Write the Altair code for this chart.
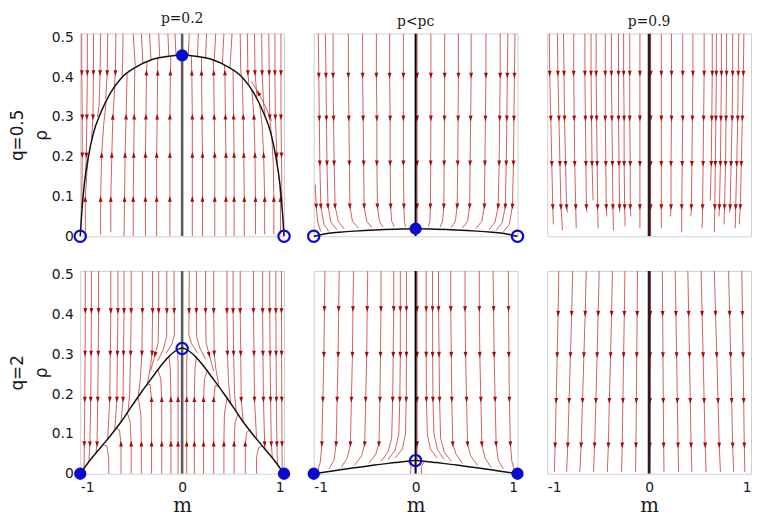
import math
import altair as alt
import pandas as pd

W, H = 206, 205
Y_TOP = 0.51
SX = W / 2.0
SY = H / Y_TOP

STREAM_COLOR = "#cf5656"
ARROW_COLOR = "#a30c0c"
BLUE = "#0b0bd0"
ARROW_PATH = "M0,-1L0.6,0.8L-0.6,0.8Z"

COL_TITLES = ["p=0.2", "p<pᴄ", "p=0.9"]
ROW_TITLES = [["q=0.5", "ρ"], ["q=2", "ρ"]]
X_TICKS = [-1, 0, 1]
Y_TICKS = [0, 0.1, 0.2, 0.3, 0.4, 0.5]
CENTER_RHO = [0.0, 0.51]

# ---------------- panel 1 : q=0.5, p=0.2 ----------------
C1_M = [-1, -0.985, -0.96, -0.92, -0.87, -0.8, -0.7, -0.6, -0.45, -0.3, -0.15, 0,
        0.15, 0.3, 0.45, 0.6, 0.7, 0.8, 0.87, 0.92, 0.96, 0.985, 1]
C1_R = [0, 0.06, 0.13, 0.2, 0.26, 0.31, 0.362, 0.397, 0.426, 0.444, 0.452, 0.455,
        0.452, 0.444, 0.426, 0.397, 0.362, 0.31, 0.26, 0.2, 0.13, 0.06, 0]
P1_FILLED = [(0, 0.455)]
P1_OPEN = [(-1, 0), (1, 0)]
P1_LINES = [
    [(-0.95, 0.005), (-0.95, 0.093, 1), (-0.935, 0.16), (-0.92, 0.2)],
    [(-0.80, 0.005), (-0.80, 0.093, 1), (-0.79, 0.204, 1), (-0.77, 0.28), (-0.745, 0.34)],
    [(-0.70, 0.01), (-0.70, 0.093, 1), (-0.69, 0.204, 1), (-0.68, 0.30, 1), (-0.66, 0.376)],
    [(-0.57, 0.0), (-0.565, 0.093, 1), (-0.56, 0.204, 1), (-0.55, 0.30, 1), (-0.54, 0.41)],
    [(-0.48, 0.0), (-0.48, 0.093, 1), (-0.475, 0.204, 1), (-0.47, 0.30, 1), (-0.465, 0.422)],
    [(-0.36, 0.0), (-0.36, 0.093, 1), (-0.36, 0.204, 1), (-0.355, 0.30, 1), (-0.35, 0.411, 1), (-0.345, 0.438)],
    [(-0.25, 0.0), (-0.25, 0.093, 1), (-0.25, 0.204, 1), (-0.245, 0.30, 1), (-0.24, 0.411, 1), (-0.24, 0.447)],
    [(-0.12, 0.0), (-0.12, 0.093, 1), (-0.12, 0.204, 1), (-0.12, 0.30, 1), (-0.115, 0.411, 1), (-0.11, 0.452)],
    [(0.10, 0.0), (0.10, 0.093, 1), (0.10, 0.204, 1), (0.10, 0.30, 1), (0.095, 0.411, 1), (0.09, 0.453)],
    [(0.20, 0.0), (0.20, 0.093, 1), (0.20, 0.204, 1), (0.195, 0.30, 1), (0.19, 0.411, 1), (0.19, 0.45)],
    [(0.32, 0.0), (0.32, 0.093, 1), (0.32, 0.204, 1), (0.315, 0.30, 1), (0.31, 0.411, 1), (0.305, 0.443)],
    [(0.43, 0.0), (0.43, 0.093, 1), (0.43, 0.204, 1), (0.425, 0.30, 1), (0.42, 0.411, 1), (0.415, 0.431)],
    [(0.51, 0.0), (0.51, 0.093, 1), (0.51, 0.204, 1), (0.505, 0.30, 1), (0.5, 0.42)],
    [(0.61, 0.0), (0.61, 0.093, 1), (0.605, 0.204, 1), (0.6, 0.30, 1), (0.59, 0.4)],
    [(0.72, 0.005), (0.72, 0.093, 1), (0.715, 0.204, 1), (0.705, 0.30, 1), (0.685, 0.367)],
    [(0.81, 0.005), (0.81, 0.093, 1), (0.80, 0.204, 1), (0.785, 0.28), (0.76, 0.333)],
    [(0.90, 0.005), (0.90, 0.093, 1), (0.895, 0.18), (0.88, 0.25)],
    [(0.965, 0.005), (0.965, 0.093, 1), (0.96, 0.125)],
    [(-0.985, 0.51), (-0.985, 0.411, 1), (-0.98, 0.30, 1), (-0.98, 0.204, 1), (-0.985, 0.07)],
    [(-0.93, 0.51), (-0.93, 0.411, 1), (-0.935, 0.30, 1), (-0.94, 0.204, 1), (-0.95, 0.15)],
    [(-0.87, 0.51), (-0.87, 0.411, 1), (-0.875, 0.30, 1), (-0.89, 0.24)],
    [(-0.80, 0.51), (-0.805, 0.411, 1), (-0.815, 0.33), (-0.83, 0.30)],
    [(-0.73, 0.51), (-0.735, 0.411, 1), (-0.75, 0.345)],
    [(-0.65, 0.51), (-0.655, 0.411, 1), (-0.665, 0.378)],
    [(-0.58, 0.51), (-0.585, 0.42), (-0.59, 0.4)],
    [(-0.48, 0.51), (-0.46, 0.428)],
    [(-0.40, 0.51), (-0.385, 0.434)],
    [(-0.32, 0.51), (-0.305, 0.443)],
    [(-0.23, 0.51), (-0.22, 0.448)],
    [(-0.14, 0.51), (-0.13, 0.452)],
    [(-0.07, 0.51), (-0.06, 0.455)],
    [(0.07, 0.51), (0.06, 0.455)],
    [(0.16, 0.51), (0.15, 0.452)],
    [(0.24, 0.51), (0.23, 0.448)],
    [(0.33, 0.51), (0.315, 0.443)],
    [(0.41, 0.51), (0.395, 0.433)],
    [(0.49, 0.51), (0.47, 0.425)],
    [(0.57, 0.51), (0.575, 0.42), (0.58, 0.404)],
    [(0.64, 0.51), (0.645, 0.411, 1), (0.655, 0.383)],
    [(0.71, 0.51), (0.715, 0.411, 1), (0.735, 0.35)],
    [(0.78, 0.51), (0.785, 0.411, 1), (0.80, 0.33), (0.815, 0.305)],
    [(0.85, 0.51), (0.855, 0.411, 1), (0.86, 0.30, 1), (0.875, 0.255)],
    [(0.91, 0.51), (0.91, 0.411, 1), (0.915, 0.30, 1), (0.93, 0.204, 1), (0.935, 0.185)],
    [(0.97, 0.51), (0.97, 0.411, 1), (0.97, 0.30, 1), (0.975, 0.204, 1), (0.98, 0.085)],
    [(0.88, 0.29), (0.82, 0.325), (0.75, 0.36, 1), (0.68, 0.39)],
]

# ---------------- panel 2 : q=0.5, p<pc ----------------
C2_M = [-1, -0.93, -0.87, -0.75, -0.6, -0.4, -0.2, 0, 0.2, 0.4, 0.6, 0.75, 0.87, 0.93, 1]
C2_R = [0, 0.004, 0.007, 0.010, 0.013, 0.016, 0.018, 0.019, 0.018, 0.016, 0.013, 0.010, 0.007, 0.004, 0]
P2_FILLED = [(0, 0.019)]
P2_OPEN = [(-1, 0), (1, 0)]
P2_LINES = [
    [(-0.955, 0.51), (-0.95, 0.405, 1), (-0.945, 0.297, 1), (-0.94, 0.184, 1), (-0.93, 0.076, 1), (-0.90, 0.03), (-0.85, 0.012)],
    [(-0.885, 0.51), (-0.88, 0.405, 1), (-0.875, 0.297, 1), (-0.87, 0.184, 1), (-0.86, 0.076, 1), (-0.83, 0.035), (-0.77, 0.016)],
    [(-0.81, 0.51), (-0.81, 0.405, 1), (-0.805, 0.297, 1), (-0.80, 0.184, 1), (-0.79, 0.076, 1), (-0.76, 0.038), (-0.70, 0.018)],
    [(-0.66, 0.51), (-0.66, 0.405, 1), (-0.655, 0.297, 1), (-0.65, 0.184, 1), (-0.645, 0.076, 1), (-0.62, 0.038), (-0.56, 0.02)],
    [(-0.52, 0.51), (-0.52, 0.405, 1), (-0.515, 0.297, 1), (-0.51, 0.184, 1), (-0.505, 0.076, 1), (-0.48, 0.038), (-0.43, 0.022)],
    [(-0.385, 0.51), (-0.385, 0.405, 1), (-0.38, 0.297, 1), (-0.38, 0.184, 1), (-0.375, 0.076, 1), (-0.355, 0.038), (-0.32, 0.023)],
    [(-0.255, 0.51), (-0.255, 0.405, 1), (-0.25, 0.297, 1), (-0.25, 0.184, 1), (-0.245, 0.076, 1), (-0.235, 0.038), (-0.21, 0.024)],
    [(-0.12, 0.51), (-0.12, 0.405, 1), (-0.12, 0.297, 1), (-0.12, 0.184, 1), (-0.115, 0.076, 1), (-0.11, 0.038), (-0.10, 0.024)],
    [(0.015, 0.51), (0.015, 0.405, 1), (0.015, 0.297, 1), (0.015, 0.184, 1), (0.015, 0.076, 1), (0.015, 0.024)],
    [(0.15, 0.51), (0.15, 0.405, 1), (0.15, 0.297, 1), (0.148, 0.184, 1), (0.145, 0.076, 1), (0.14, 0.038), (0.125, 0.024)],
    [(0.285, 0.51), (0.285, 0.405, 1), (0.283, 0.297, 1), (0.28, 0.184, 1), (0.277, 0.076, 1), (0.265, 0.038), (0.24, 0.023)],
    [(0.42, 0.51), (0.42, 0.405, 1), (0.417, 0.297, 1), (0.413, 0.184, 1), (0.408, 0.076, 1), (0.39, 0.038), (0.35, 0.022)],
    [(0.545, 0.51), (0.545, 0.405, 1), (0.54, 0.297, 1), (0.535, 0.184, 1), (0.53, 0.076, 1), (0.51, 0.038), (0.46, 0.021)],
    [(0.69, 0.51), (0.69, 0.405, 1), (0.685, 0.297, 1), (0.68, 0.184, 1), (0.675, 0.076, 1), (0.65, 0.038), (0.59, 0.019)],
    [(0.83, 0.51), (0.83, 0.405, 1), (0.825, 0.297, 1), (0.82, 0.184, 1), (0.81, 0.076, 1), (0.78, 0.036), (0.72, 0.016)],
    [(0.905, 0.51), (0.90, 0.405, 1), (0.895, 0.297, 1), (0.89, 0.184, 1), (0.88, 0.076, 1), (0.85, 0.034), (0.79, 0.015)],
    [(0.975, 0.51), (0.97, 0.405, 1), (0.965, 0.297, 1), (0.96, 0.184, 1), (0.95, 0.076, 1), (0.92, 0.03), (0.86, 0.011)],
    [(-0.985, 0.13), (-0.975, 0.076, 1), (-0.96, 0.035), (-0.93, 0.012)],
]

# ---------------- panel 3 : q=0.5, p=0.9 ----------------
# (m at top, m at rho rows 0.41 / 0.297 / 0.183 / 0.074, m at end, rho at end)
P3_ROWS = [0.41, 0.297, 0.183, 0.074]
P3_SPECS = [
    (-0.98, -0.975, -0.965, -0.955, -0.945, -0.94, 0.03),
    (-0.90, -0.895, -0.885, -0.875, -0.865, -0.85, 0.015),
    (-0.84, -0.835, -0.83, -0.82, -0.81, -0.80, 0.06),
    (-0.74, -0.74, -0.735, -0.73, -0.72, -0.715, 0.02),
    (-0.63, -0.63, -0.625, -0.62, -0.615, -0.61, 0.06),
    (-0.57, -0.57, -0.565, -0.56, -0.555, -0.55, 0.09),
    (-0.52, -0.52, -0.515, -0.51, -0.505, -0.50, 0.02),
    (-0.43, -0.43, -0.43, -0.425, -0.42, -0.415, 0.05),
    (-0.37, -0.37, -0.365, -0.36, -0.355, -0.35, 0.015),
    (-0.30, -0.30, -0.30, -0.295, -0.29, -0.29, 0.06),
    (-0.25, -0.25, -0.245, -0.245, -0.24, -0.235, 0.025),
    (-0.19, -0.19, -0.19, -0.185, -0.185, -0.18, 0.05),
    (-0.09, -0.09, -0.09, -0.09, -0.09, -0.09, 0.02),
    (0.015, 0.015, 0.015, 0.015, 0.015, 0.015, 0.0),
    (0.12, 0.12, 0.12, 0.12, 0.12, 0.12, 0.02),
    (0.22, 0.22, 0.22, 0.215, 0.215, 0.21, 0.05),
    (0.33, 0.33, 0.33, 0.325, 0.32, 0.32, 0.01),
    (0.43, 0.43, 0.425, 0.42, 0.415, 0.41, 0.05),
    (0.54, 0.54, 0.535, 0.53, 0.525, 0.52, 0.02),
    (0.62, 0.62, 0.615, 0.61, 0.605, 0.60, 0.09),
    (0.66, 0.66, 0.655, 0.65, 0.645, 0.64, 0.01),
    (0.71, 0.71, 0.705, 0.70, 0.69, 0.685, 0.05),
    (0.76, 0.76, 0.755, 0.75, 0.74, 0.735, 0.03),
    (0.82, 0.82, 0.815, 0.805, 0.795, 0.79, 0.06),
    (0.88, 0.875, 0.87, 0.86, 0.85, 0.845, 0.02),
    (0.93, 0.925, 0.915, 0.905, 0.895, 0.885, 0.03),
]

# ---------------- panel 4 : q=2, p=0.2 ----------------
C4_M = [-1, -0.9, -0.8, -0.7, -0.6, -0.5, -0.4, -0.3, -0.2, -0.13, -0.07, -0.03, 0,
        0.03, 0.07, 0.13, 0.2, 0.3, 0.4, 0.5, 0.6, 0.7, 0.8, 0.9, 1]
C4_R = [0, 0.035, 0.066, 0.097, 0.13, 0.168, 0.205, 0.24, 0.274, 0.295, 0.308, 0.314, 0.316,
        0.314, 0.308, 0.295, 0.274, 0.24, 0.205, 0.168, 0.13, 0.097, 0.066, 0.035, 0]
P4_FILLED = [(-1, 0), (1, 0)]
P4_OPEN = [(0, 0.315)]
P4_LINES = [
    [(-0.95, 0.51), (-0.95, 0.41, 1), (-0.952, 0.303, 1), (-0.955, 0.187, 1), (-0.96, 0.075, 1), (-0.962, 0.015)],
    [(-0.89, 0.51), (-0.89, 0.41, 1), (-0.893, 0.303, 1), (-0.897, 0.187, 1), (-0.905, 0.075, 1), (-0.915, 0.03)],
    [(-0.82, 0.51), (-0.82, 0.41, 1), (-0.823, 0.303, 1), (-0.828, 0.187, 1), (-0.835, 0.075, 1), (-0.845, 0.052)],
    [(-0.70, 0.51), (-0.70, 0.41, 1), (-0.705, 0.303, 1), (-0.71, 0.187, 1), (-0.73, 0.09)],
    [(-0.63, 0.51), (-0.63, 0.41, 1), (-0.635, 0.303, 1), (-0.64, 0.187, 1), (-0.66, 0.113)],
    [(-0.57, 0.51), (-0.57, 0.41, 1), (-0.575, 0.303, 1), (-0.58, 0.187, 1), (-0.60, 0.13)],
    [(-0.50, 0.51), (-0.50, 0.41, 1), (-0.505, 0.303, 1), (-0.515, 0.2), (-0.53, 0.158)],
    [(-0.39, 0.51), (-0.39, 0.41, 1), (-0.395, 0.303, 1), (-0.41, 0.24), (-0.43, 0.195)],
    [(-0.29, 0.51), (-0.29, 0.41, 1), (-0.295, 0.303, 1), (-0.31, 0.27), (-0.34, 0.228)],
    [(-0.23, 0.51), (-0.23, 0.41, 1), (-0.235, 0.33), (-0.265, 0.30, 1), (-0.31, 0.258)],
    [(-0.15, 0.51), (-0.15, 0.41, 1), (-0.152, 0.345), (-0.185, 0.312), (-0.24, 0.284)],
    [(-0.08, 0.51), (-0.078, 0.41, 1), (-0.075, 0.35), (-0.10, 0.326), (-0.16, 0.302)],
    [(0.07, 0.51), (0.068, 0.41, 1), (0.066, 0.35), (0.09, 0.328), (0.15, 0.304)],
    [(0.14, 0.51), (0.14, 0.41, 1), (0.142, 0.345), (0.175, 0.315), (0.23, 0.288)],
    [(0.23, 0.51), (0.23, 0.41, 1), (0.235, 0.33), (0.265, 0.30, 1), (0.31, 0.258)],
    [(0.31, 0.51), (0.31, 0.41, 1), (0.315, 0.303, 1), (0.33, 0.265), (0.36, 0.222)],
    [(0.44, 0.51), (0.44, 0.41, 1), (0.445, 0.303, 1), (0.455, 0.23), (0.475, 0.18)],
    [(0.50, 0.51), (0.50, 0.41, 1), (0.505, 0.303, 1), (0.515, 0.2), (0.53, 0.158)],
    [(0.57, 0.51), (0.57, 0.41, 1), (0.575, 0.303, 1), (0.58, 0.187, 1), (0.60, 0.13)],
    [(0.70, 0.51), (0.70, 0.41, 1), (0.705, 0.303, 1), (0.71, 0.187, 1), (0.73, 0.09)],
    [(0.79, 0.51), (0.79, 0.41, 1), (0.793, 0.303, 1), (0.798, 0.187, 1), (0.81, 0.075, 1), (0.815, 0.06)],
    [(0.86, 0.51), (0.86, 0.41, 1), (0.863, 0.303, 1), (0.868, 0.187, 1), (0.875, 0.075, 1), (0.885, 0.042)],
    [(0.92, 0.51), (0.92, 0.41, 1), (0.922, 0.303, 1), (0.925, 0.187, 1), (0.93, 0.075, 1), (0.935, 0.025)],
    [(0.975, 0.51), (0.975, 0.41, 1), (0.976, 0.303, 1), (0.978, 0.187, 1), (0.98, 0.075, 1), (0.982, 0.008)],
    [(-0.72, 0.0), (-0.72, 0.04), (-0.74, 0.07), (-0.78, 0.073)],
    [(-0.60, 0.0), (-0.60, 0.075, 1), (-0.615, 0.11), (-0.65, 0.115)],
    [(-0.50, 0.0), (-0.50, 0.075, 1), (-0.51, 0.13), (-0.54, 0.155)],
    [(-0.40, 0.0), (-0.40, 0.075, 1), (-0.405, 0.15), (-0.43, 0.19), (-0.46, 0.185)],
    [(-0.30, 0.0), (-0.30, 0.075, 1), (-0.30, 0.187, 1), (-0.315, 0.225), (-0.35, 0.222)],
    [(-0.20, 0.0), (-0.20, 0.075, 1), (-0.20, 0.187, 1), (-0.21, 0.24), (-0.24, 0.262)],
    [(-0.11, 0.0), (-0.11, 0.075, 1), (-0.11, 0.187, 1), (-0.115, 0.26), (-0.13, 0.297)],
    [(-0.04, 0.0), (-0.04, 0.075, 1), (-0.04, 0.187, 1), (-0.04, 0.28), (-0.045, 0.312)],
    [(0.045, 0.0), (0.045, 0.075, 1), (0.045, 0.187, 1), (0.045, 0.28), (0.05, 0.312)],
    [(0.12, 0.0), (0.12, 0.075, 1), (0.12, 0.187, 1), (0.125, 0.26), (0.14, 0.295)],
    [(0.21, 0.0), (0.21, 0.075, 1), (0.21, 0.187, 1), (0.22, 0.24), (0.25, 0.26)],
    [(0.31, 0.0), (0.31, 0.075, 1), (0.31, 0.187, 1), (0.325, 0.222), (0.36, 0.219)],
    [(0.41, 0.0), (0.41, 0.075, 1), (0.415, 0.15), (0.44, 0.19), (0.47, 0.18)],
    [(0.51, 0.0), (0.51, 0.075, 1), (0.52, 0.13), (0.55, 0.15)],
    [(0.62, 0.0), (0.62, 0.075, 1), (0.635, 0.105), (0.67, 0.11)],
    [(0.73, 0.0), (0.73, 0.04), (0.75, 0.065), (0.79, 0.07)],
]

# ---------------- panel 5 : q=2, p<pc ----------------
C5_M = [-1, -0.8, -0.6, -0.4, -0.2, -0.1, -0.04, 0, 0.04, 0.1, 0.2, 0.4, 0.6, 0.8, 1]
C5_R = [0, 0.0075, 0.015, 0.022, 0.028, 0.031, 0.0325, 0.033, 0.0325, 0.031, 0.028, 0.022, 0.015, 0.0075, 0]
P5_FILLED = [(-1, 0), (1, 0)]
P5_OPEN = [(0, 0.033)]
P5_LINES = [
    [(-0.89, 0.51), (-0.895, 0.415, 1), (-0.90, 0.30, 1), (-0.91, 0.187, 1), (-0.92, 0.075, 1), (-0.935, 0.03), (-0.96, 0.008)],
    [(-0.75, 0.51), (-0.755, 0.415, 1), (-0.76, 0.30, 1), (-0.77, 0.187, 1), (-0.78, 0.075, 1), (-0.80, 0.035), (-0.85, 0.012)],
    [(-0.61, 0.51), (-0.615, 0.415, 1), (-0.62, 0.30, 1), (-0.63, 0.187, 1), (-0.64, 0.075, 1), (-0.67, 0.04), (-0.73, 0.016)],
    [(-0.47, 0.51), (-0.475, 0.415, 1), (-0.48, 0.30, 1), (-0.49, 0.187, 1), (-0.50, 0.075, 1), (-0.53, 0.045), (-0.60, 0.021)],
    [(-0.34, 0.51), (-0.34, 0.415, 1), (-0.345, 0.30, 1), (-0.35, 0.187, 1), (-0.36, 0.075, 1), (-0.39, 0.05), (-0.46, 0.026)],
    [(-0.215, 0.51), (-0.215, 0.415, 1), (-0.22, 0.30, 1), (-0.225, 0.187, 1), (-0.235, 0.09), (-0.27, 0.055), (-0.34, 0.031)],
    [(-0.15, 0.51), (-0.15, 0.415, 1), (-0.15, 0.30, 1), (-0.155, 0.187, 1), (-0.165, 0.10), (-0.20, 0.06), (-0.27, 0.036)],
    [(-0.09, 0.51), (-0.09, 0.415, 1), (-0.09, 0.30, 1), (-0.092, 0.187, 1), (-0.10, 0.10), (-0.13, 0.062), (-0.20, 0.04)],
    [(0.015, 0.51), (0.015, 0.415, 1), (0.015, 0.30, 1), (0.015, 0.187, 1), (0.015, 0.075, 1), (0.015, 0.034)],
    [(0.104, 0.51), (0.104, 0.415, 1), (0.104, 0.30, 1), (0.106, 0.187, 1), (0.115, 0.10), (0.145, 0.062), (0.21, 0.04)],
    [(0.166, 0.51), (0.166, 0.415, 1), (0.167, 0.30, 1), (0.17, 0.187, 1), (0.18, 0.10), (0.215, 0.06), (0.28, 0.036)],
    [(0.225, 0.51), (0.225, 0.415, 1), (0.23, 0.30, 1), (0.235, 0.187, 1), (0.245, 0.09), (0.28, 0.055), (0.35, 0.031)],
    [(0.345, 0.51), (0.345, 0.415, 1), (0.35, 0.30, 1), (0.355, 0.187, 1), (0.365, 0.075, 1), (0.395, 0.05), (0.46, 0.026)],
    [(0.485, 0.51), (0.485, 0.415, 1), (0.49, 0.30, 1), (0.50, 0.187, 1), (0.51, 0.075, 1), (0.54, 0.045), (0.61, 0.02)],
    [(0.625, 0.51), (0.625, 0.415, 1), (0.63, 0.30, 1), (0.64, 0.187, 1), (0.65, 0.075, 1), (0.68, 0.04), (0.74, 0.016)],
    [(0.76, 0.51), (0.765, 0.415, 1), (0.77, 0.30, 1), (0.78, 0.187, 1), (0.79, 0.075, 1), (0.81, 0.035), (0.86, 0.012)],
    [(0.91, 0.51), (0.912, 0.415, 1), (0.915, 0.30, 1), (0.92, 0.187, 1), (0.93, 0.075, 1), (0.945, 0.03), (0.97, 0.008)],
    [(-0.05, 0.0), (-0.045, 0.018), (-0.07, 0.03)],
    [(0.06, 0.0), (0.055, 0.018), (0.085, 0.03)],
]

# ---------------- panel 6 : q=2, p=0.9 ----------------
P6_ROWS = [0.403, 0.299, 0.184, 0.072]
P6_SPECS = [
    (-0.886, -0.893, -0.902, -0.912, -0.922, -0.93, 0.004),
    (-0.75, -0.76, -0.772, -0.785, -0.798, -0.81, 0.004),
    (-0.617, -0.627, -0.64, -0.653, -0.667, -0.68, 0.004),
    (-0.49, -0.50, -0.51, -0.522, -0.535, -0.545, 0.004),
    (-0.36, -0.368, -0.378, -0.39, -0.40, -0.41, 0.004),
    (-0.237, -0.243, -0.25, -0.257, -0.264, -0.27, 0.004),
    (-0.114, -0.117, -0.121, -0.125, -0.129, -0.133, 0.004),
    (0.013, 0.012, 0.011, 0.009, 0.008, 0.006, 0.004),
    (0.13, 0.133, 0.136, 0.139, 0.143, 0.146, 0.004),
    (0.256, 0.263, 0.27, 0.277, 0.284, 0.29, 0.004),
    (0.38, 0.388, 0.396, 0.404, 0.412, 0.42, 0.004),
    (0.51, 0.52, 0.53, 0.54, 0.55, 0.56, 0.004),
    (0.64, 0.652, 0.664, 0.676, 0.688, 0.70, 0.004),
    (0.78, 0.79, 0.80, 0.81, 0.82, 0.83, 0.004),
    (0.91, 0.916, 0.922, 0.928, 0.934, 0.94, 0.004),
]


def specs_to_lines(specs, rows):
    out = []
    for s in specs:
        pts = [(s[0], Y_TOP)]
        for mv, rv in zip(s[1:5], rows):
            if rv > s[6] + 0.008:
                pts.append((mv, rv, 1))
        pts.append((s[5], s[6]))
        out.append(pts)
    return out


def lines_to_frames(lines):
    prow, arow = [], []
    for li, pts in enumerate(lines):
        for k, p in enumerate(pts):
            prow.append({"line": li, "order": k, "m": p[0], "rho": p[1]})
            if len(p) > 2 and p[2]:
                a = pts[max(k - 1, 0)]
                b = pts[min(k + 1, len(pts) - 1)]
                dx = (b[0] - a[0]) * SX
                dy = (b[1] - a[1]) * SY
                ang = math.degrees(math.atan2(dx, dy)) % 360
                arow.append({"m": p[0], "rho": p[1], "angle": ang})
    return pd.DataFrame(prow), pd.DataFrame(arow, columns=["m", "rho", "angle"])


XS = alt.Scale(domain=[-1, 1], nice=False, zero=False)
YS = alt.Scale(domain=[0, Y_TOP], nice=False, zero=False)


def make_panel(r, c, lines, curve=None, filled=None, opened=None, center_color="#000", center_w=2.0):
    if r == 1:
        xaxis = alt.Axis(values=X_TICKS, title="m", labelExpr="'' + datum.value",
                         ticks=False, domain=False, grid=False, labelPadding=7,
                         titleFont="DejaVu Serif", titleFontSize=20, titleFontWeight="normal",
                         titlePadding=1, labelFontSize=14, labelFont="DejaVu Sans", labelColor="#1a1a1a",
                         titleColor="#1a1a1a")
    else:
        xaxis = None
    if c == 0:
        yaxis = alt.Axis(values=Y_TICKS, title=ROW_TITLES[r], labelExpr="'' + datum.value",
                         ticks=False, domain=False, grid=False, labelPadding=7,
                         titleFont="DejaVu Sans", titleFontSize=17, titleFontWeight="normal",
                         titleLineHeight=24, titlePadding=1, labelFontSize=14, labelFont="DejaVu Sans",
                         labelColor="#1a1a1a", titleColor="#1a1a1a")
    else:
        yaxis = None
    x = alt.X("m:Q", scale=XS, axis=xaxis)
    y = alt.Y("rho:Q", scale=YS, axis=yaxis)

    sdf, adf = lines_to_frames(lines)
    layers = [
        alt.Chart(sdf).mark_line(color=STREAM_COLOR, strokeWidth=1, clip=True, opacity=0.95).encode(
            x=x, y=y, detail="line:N", order="order:Q"),
        alt.Chart(adf).mark_point(shape=ARROW_PATH, filled=True, size=42, color=ARROW_COLOR,
                                  opacity=1, clip=True).encode(
            x=x, y=y, angle=alt.Angle("angle:Q", scale=None)),
        alt.Chart(pd.DataFrame({"m": [0, 0], "rho": CENTER_RHO})).mark_line(
            color=center_color, strokeWidth=center_w, clip=True).encode(x=x, y=y),
    ]
    if curve is not None:
        layers.append(alt.Chart(pd.DataFrame({"m": curve[0], "rho": curve[1]})).mark_line(
            color="#111111", strokeWidth=1.5, clip=False, interpolate="monotone").encode(x=x, y=y))
    if filled:
        layers.append(alt.Chart(pd.DataFrame(filled, columns=["m", "rho"])).mark_circle(
            color=BLUE, size=155, opacity=1).encode(x=x, y=y))
    if opened:
        layers.append(alt.Chart(pd.DataFrame(opened, columns=["m", "rho"])).mark_point(
            shape="circle", color=BLUE, filled=False, size=130, strokeWidth=2.2, opacity=1).encode(x=x, y=y))
    ch = alt.layer(*layers).properties(width=W, height=H)
    if r == 0:
        ch = ch.properties(title=alt.TitleParams(COL_TITLES[c], font="DejaVu Serif", fontSize=14,
                                                 fontWeight="normal", offset=5, color="#1a1a1a"))
    return ch


p1 = make_panel(0, 0, P1_LINES, (C1_M, C1_R), P1_FILLED, P1_OPEN, "#5a5a5a", 2.6)
p2 = make_panel(0, 1, P2_LINES, (C2_M, C2_R), P2_FILLED, P2_OPEN, "#000000", 2.0)
p3 = make_panel(0, 2, specs_to_lines(P3_SPECS, P3_ROWS), None, None, None, "#2e1c1c", 2.8)
p4 = make_panel(1, 0, P4_LINES, (C4_M, C4_R), P4_FILLED, P4_OPEN, "#5a5a5a", 2.6)
p5 = make_panel(1, 1, P5_LINES, (C5_M, C5_R), P5_FILLED, P5_OPEN, "#000000", 2.0)
p6 = make_panel(1, 2, specs_to_lines(P6_SPECS, P6_ROWS), None, None, None, "#2e1c1c", 2.8)

chart = alt.concat(p1, p2, p3, p4, p5, p6, columns=3,
                   spacing={"row": 35, "column": 30}, bounds="flush").properties(
    padding=0, background="white"
).configure_view(stroke="#cfcfcf", strokeWidth=1)

chart.save("out.html", embed_options={"renderer": "svg", "actions": False})
